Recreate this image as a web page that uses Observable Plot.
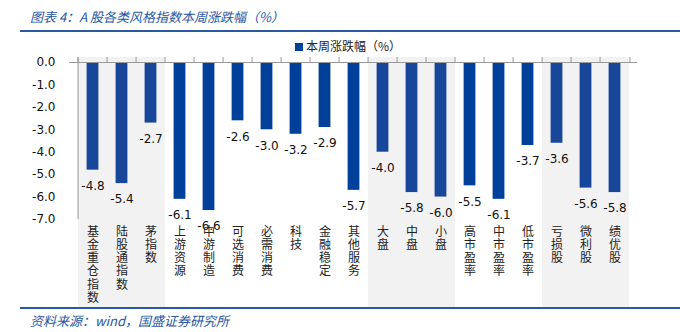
<!DOCTYPE html>
<html><head><meta charset="utf-8">
<script src="https://cdn.jsdelivr.net/npm/d3@7"></script>
<script src="https://cdn.jsdelivr.net/npm/@observablehq/plot@0.6"></script>
<style>
body{margin:0;background:#fff;width:680px;height:332px;position:relative;overflow:hidden;font-family:"Noto Sans CJK SC",sans-serif;}
#title{position:absolute;left:30px;top:7px;font-size:13px;font-style:italic;color:#2856a3;white-space:nowrap;}
.hline{position:absolute;left:20px;width:660px;height:2px;background:#2a58a3;}
#legend{position:absolute;left:295px;top:37px;font-size:12px;color:#222;white-space:nowrap;z-index:2;}
#legend span{display:inline-block;width:8px;height:8px;background:#00409a;margin-right:3px;vertical-align:0px;}
#chart{position:absolute;left:0;top:36px;}
#foot{position:absolute;left:30px;top:311px;font-size:13px;font-style:italic;color:#2856a3;white-space:nowrap;}
</style></head>
<body>
<div id="title">图表 4：A 股各类风格指数本周涨跌幅（%）</div>
<div class="hline" style="top:30px"></div>
<div id="legend"><span></span>本周涨跌幅（%）</div>
<div id="chart"></div>
<div class="hline" style="top:307px"></div>
<div id="foot">资料来源：wind，国盛证券研究所</div>
<script>
const categories = ["基金重仓指数","陆股通指数","茅指数","上游资源","中游制造","可选消费","必需消费","科技","金融稳定","其他服务","大盘","中盘","小盘","高市盈率","中市盈率","低市盈率","亏损股","微利股","绩优股"];
const values = [-4.8,-5.4,-2.7,-6.1,-6.6,-2.6,-3.0,-3.2,-2.9,-5.7,-4.0,-5.8,-6.0,-5.5,-6.1,-3.7,-3.6,-5.6,-5.8];
const shaded = ["基金重仓指数","陆股通指数","茅指数","大盘","中盘","小盘","亏损股","微利股","绩优股"];
const yTicks = [0,-1,-2,-3,-4,-5,-6,-7];

const data = categories.map((c,i)=>({cat:c, v:values[i], shaded: shaded.includes(c)}));
const step = (637-69)/categories.length;

const plot = Plot.plot({
  width: 680, height: 274,
  marginLeft: 69, marginRight: 43, marginTop: 26, marginBottom: 91,
  style: {fontFamily: "DejaVu Sans, sans-serif", overflow: "visible"},
  x: {domain: categories, padding: 0, axis: null},
  y: {domain: [-7, 0], axis: null},
  marks: [
    Plot.cell(data.filter(d=>d.shaded), {x: "cat", fill: "#f2f2f2", insetTop: -5, insetBottom: -88}),
    Plot.axisY({ticks: yTicks, tickFormat: d => d.toFixed(1), tickSize: 0, tickPadding: 14, fontSize: 12, fill: "#111", label: null}),
    Plot.ruleX([categories[0]], {y1: -7, y2: 0.22, dx: -step/2, stroke: "#999", strokeWidth: 1}),
    Plot.barY(data, {x: "cat", y: "v", fill: d => d.shaded ? "#17469a" : "#00409a", insetLeft: 8.6, insetRight: 8.6}),
    Plot.ruleY([0], {stroke: "#999", strokeWidth: 1}),
    Plot.ruleX(categories, {y1: 0, y2: 0.22, dx: -step/2, stroke: "#999", strokeWidth: 1}),
    Plot.ruleX([categories[categories.length-1]], {y1: 0, y2: 0.22, dx: step/2, stroke: "#999", strokeWidth: 1}),
    Plot.text(data, {x: "cat", y: "v", text: d => d.v.toFixed(1), dy: 16, fontSize: 12, fill: "#111"}),
    Plot.text(data, {x: "cat", frameAnchor: "bottom", text: d => d.cat.split("").join("\n"), lineAnchor: "top", lineHeight: 1.1, dy: 7, fontSize: 12, fill: "#222", fontFamily: "Noto Sans CJK SC"})
  ]
});
document.getElementById("chart").appendChild(plot);
</script>
</body></html>
